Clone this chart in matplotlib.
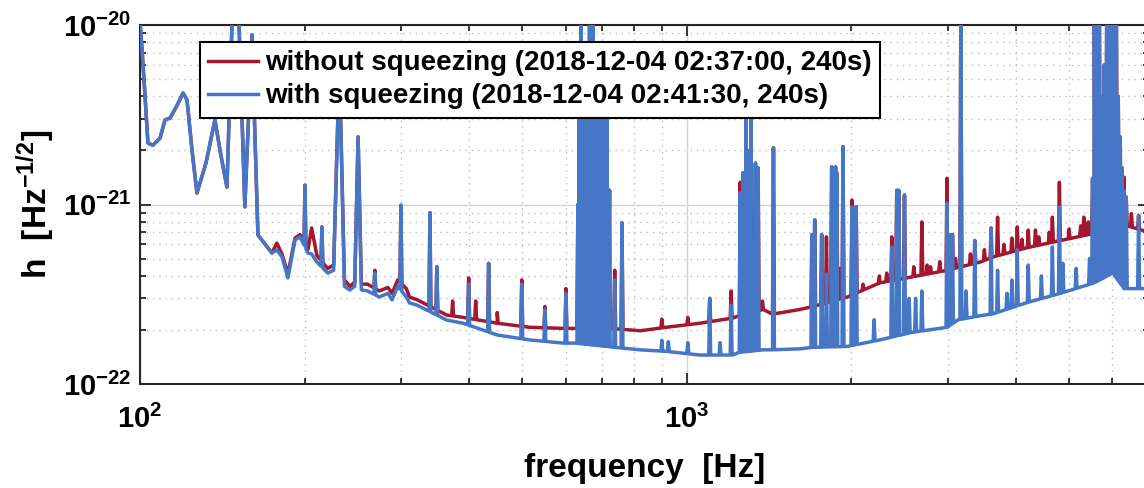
import numpy as np
import matplotlib
matplotlib.use("Agg")
import matplotlib.pyplot as plt
from matplotlib.ticker import FixedLocator, NullFormatter

nan = np.nan
UNIT = 1e-22  # amplitudes below are in units of 1e-22 Hz^-1/2

# ---- broadband floor (frequency [Hz], amplitude [1e-22]) ----
red_floor_f = [100, 100.8, 101.9, 103.4, 105.6, 108.8, 111.1, 113.5, 116.5, 119.9, 121.9, 124.5, 127.1,
               132, 137.1, 140.5, 144.2, 147.9, 151.1, 155.5, 160.2, 164.3, 174.3, 177.9, 181.8, 186.4,
               192.1, 196.1, 202.8, 206, 210.6, 220.4, 226, 231.5, 236.5, 242, 247, 250.5,
               254, 260.6, 274, 284, 289, 296, 307, 311, 321, 364, 390, 450, 516, 594, 624,
               724, 822, 917, 1056, 1213, 1245, 1380, 1433, 1608, 1700, 1965, 2253, 2581,
               2993, 3134, 3440, 3631, 4184, 4822, 5557, 6003, 6300, 7000]
red_floor_v = [105, 75, 45, 22, 21.4, 23.4, 29.6, 30.3, 35, 41.8, 38.2, 20, 11.6,
               17, 29.6, 19, 12.5, 150, 150, 9.7, 88, 6.76, 5.37, 6.1, 5.3, 4.1,
               6.5, 6.8, 5.6, 7.4, 5.2, 4.4, 4.6, 60, 3.8, 3.5, 3.7, 23.8,
               3.6, 3.6, 3.3, 3.45, 3.2, 3.8, 3.4, 3.05, 2.95, 2.42, 2.35, 2.18, 2.07, 2.04, 2.04,
               2.04, 1.98, 2.07, 2.18, 2.33, 2.4, 2.6, 2.45, 2.6, 2.7, 3.05, 3.66, 3.95,
               4.3, 4.46, 4.78, 5.1, 5.74, 6.3, 6.9, 7.4, 7.7, 7.0]

blue_floor_f = red_floor_f
blue_floor_v = [105, 75, 45, 22, 21.4, 23.4, 29.6, 30.3, 35, 41.8, 38.2, 20, 11.6,
                17, 29.6, 19, 12.5, 150, 150, 9.7, 88, 6.76, 5.37, 5.58, 5.1, 3.9,
                6.35, 6.6, 5.37, 5.3, 4.78, 4.15, 4.3, 60, 3.5, 3.34, 3.5, 23.8,
                3.34, 3.3, 3.05, 3.2, 2.94, 3.5, 3.05, 2.83, 2.75, 2.27, 2.18, 1.875, 1.76, 1.69, 1.69,
                1.61, 1.55, 1.52, 1.45, 1.45, 1.5, 1.55, 1.55, 1.57, 1.6, 1.62, 1.76, 1.94,
                2.07, 2.28, 2.4, 2.46, 2.84, 3.2, 3.66, 4.15, 3.4, 3.4]

# ---- narrow lines: frequency, peak with squeezing, peak without squeezing ----
line_f = [200.3, 215.1, 268.8, 300, 339, 349, 373, 399, 411, 434, 450, 499, 550, 601,
          632, 636, 640, 646, 651, 658, 664, 668, 673, 679, 685, 693, 700, 707, 714, 722,
          738, 761, 900, 925, 1004, 1101, 1150, 1205,
          1252, 1266, 1283, 1300, 1310, 1335, 1350, 1375, 1440,
          1693, 1713, 1764, 1800, 1840, 1855, 1870, 1880, 1900, 1930, 2004, 2040,
          2100, 2200, 2250, 2320, 2370, 2420, 2440, 2500, 2550, 2600, 2620, 2690,
          2750, 2790, 2900, 2990, 3030, 3060, 3100, 3170, 3240, 3300, 3362, 3500,
          3600, 3700, 3800, 3850, 3930, 4020, 4100, 4210, 4340, 4400, 4450, 4600,
          4660, 4800, 4870, 5000, 5150, 5250, 5320, 5420, 5450, 5520, 5560, 5620,
          5680, 5720, 5760, 5800, 5860, 5920, 5980, 6040, 6100, 6150, 6200, 6250,
          6300, 6360, 6500, 6700]
line_blue = [12.8, 7.5, 4.15, 9.9, 9.0, 4.5, nan, 3.6, nan, 4.7, nan, 3.6, 2.6, 3.2,
             10, 40, 150, 60, 35, 50, 150, 150, 150, 60, 35, 40, 35, 40, 30, 12,
             3.8, 7.9, 1.75, 1.72, 1.7, 3.0, 1.7, 2.75,
             11.6, 15, 33, 20, 40, 17, 16, nan, 20.7,
             6.8, 8.2, 6.8, 4.1, 16.2, 16, 16.2, 15, nan, 21, 9.7, 9.7,
             nan, 2.28, nan, nan, 5.8, 12, 12, 11.3, 3.0, nan, 3.0, 3.3,
             nan, nan, nan, 10.2, 6.8, 6.8, nan, 150, 3.3, nan, 6.3, nan,
             7.4, 4.3, nan, 3.2, 3.8, 5.6, nan, 4.6, nan, nan, 4.0, nan,
             5.8, 9.7, 4.7, nan, 4.4, nan, nan, nan, 5.0, 14, 150, 150,
             150, 30, 40, 60, 150, 150, 150, 150, 150, 40, 23.8, 16,
             12, 11, nan, 8.7]
line_red = [12.8, 7.5, 4.3, 9.9, 9.0, 4.5, 2.9, 3.9, 2.9, 4.7, 2.5, 3.8, 2.7, 3.4,
            10, 40, 150, 60, 35, 50, 150, 150, 150, 60, 35, 40, 35, 40, 30, 12,
            4.3, 7.9, 2.3, nan, 2.35, 3.0, nan, 3.3,
            13.3, 15, 33, 20, 42, 17, 16, 2.9, 20.7,
            6.8, 8.2, 6.8, 6.6, 16.2, 16, 16.2, 15, 4.4, 21, 10.6, 9.7,
            3.6, nan, 4.0, 4.15, 6.6, 12, 12, 11.3, nan, 4.5, nan, 8.0,
            4.6, 4.5, 4.8, 14, 6.8, 6.8, 5.0, 150, nan, 5.3, 6.3, 5.6,
            7.4, 8.5, 6.0, nan, 6.5, 7.5, 6.4, 7.2, 7.2, 6.6, nan, 7.0,
            8.5, 13.3, nan, 7.3, nan, 7.6, 8.5, 8.0, nan, 14, 150, 150,
            150, 30, 40, 60, 150, 150, 150, 150, 150, 40, 23.8, 16,
            14.2, 11, 8.9, 8.7]

labels = ["without squeezing (2018-12-04 02:37:00, 240s)",
          "with squeezing (2018-12-04 02:41:30, 240s)"]
colors = ["#A3182F", "#4677C6"]
x_major = [1e2, 1e3]
y_major = [1e-22, 1e-21, 1e-20]


def build_series(ff, fv, lf, lv, w=1.004):
    lff = np.log10(ff)
    lfv = np.log10(fv)
    base = lambda f: 10 ** np.interp(np.log10(f), lff, lfv)
    xs = list(ff)
    ys = list(fv)
    for f, v in zip(lf, lv):
        if np.isfinite(v):
            xs += [f / w, f, f * w]
            ys += [base(f / w), v, base(f * w)]
    order = np.argsort(xs, kind="stable")
    return np.asarray(xs)[order], np.asarray(ys)[order] * UNIT


plt.rcParams["font.family"] = ["Liberation Sans", "DejaVu Sans"]
plt.rcParams["font.weight"] = "bold"
plt.rcParams["mathtext.fontset"] = "custom"
plt.rcParams["mathtext.rm"] = "Liberation Sans:bold"
plt.rcParams["mathtext.it"] = "Liberation Sans:bold"
plt.rcParams["mathtext.bf"] = "Liberation Sans:bold"
plt.rcParams["axes.unicode_minus"] = False

fig = plt.figure(figsize=(11.44, 4.88), dpi=100)
ax = fig.add_axes([140 / 1144, (488 - 384) / 488, 1009 / 1144, 359 / 488])
ax.set_xscale("log")
ax.set_yscale("log")

rx, ry = build_series(red_floor_f, red_floor_v, line_f, line_red)
bx, by = build_series(blue_floor_f, blue_floor_v, line_f, line_blue)
ax.plot(rx, ry, color=colors[0], lw=2.5, label=labels[0], zorder=3)
ax.plot(bx, by, color=colors[1], lw=2.5, label=labels[1], zorder=4)

ax.set_xlim(100, 7000)
ax.set_ylim(1e-22, 1e-20)

ax.set_xticks(x_major)
ax.set_yticks(y_major)
x_minor = [m * d for d in (1e2, 1e3) for m in range(2, 10) if m * d <= 7000]
y_minor = [m * d for d in (1e-22, 1e-21) for m in range(2, 10)]
ax.xaxis.set_minor_locator(FixedLocator(x_minor))
ax.yaxis.set_minor_locator(FixedLocator(y_minor))
ax.xaxis.set_minor_formatter(NullFormatter())
ax.yaxis.set_minor_formatter(NullFormatter())
ax.set_xticklabels([r"$\mathdefault{10^{2}}$", r"$\mathdefault{10^{3}}$"])
ax.set_yticklabels([r"$\mathdefault{10^{-22}}$", r"$\mathdefault{10^{-21}}$",
                    r"$\mathdefault{10^{-20}}$"])

ax.grid(which="major", color="#d4d4d4", lw=1.0, ls="-", zorder=0)
ax.grid(which="minor", color="#bdbdbd", lw=1.0, ls=(0, (1, 3.5)), zorder=0)
ax.set_axisbelow(True)

ax.tick_params(which="both", direction="in", top=True, right=True, color="#262626",
               width=1.3, labelsize=21, labelcolor="black")
ax.tick_params(which="major", length=8)
ax.tick_params(which="minor", length=4.5)
ax.tick_params(axis="x", which="major", pad=15)
ax.tick_params(axis="y", which="major", pad=6)
for s in ax.spines.values():
    s.set_color("#262626")
    s.set_linewidth(1.5)

ax.set_xlabel("frequency  [Hz]", fontsize=24, fontweight="bold", labelpad=14)
ax.set_ylabel("h  [Hz$^{-1/2}$]", fontsize=24, fontweight="bold", labelpad=4)

leg = ax.legend(loc="upper left", bbox_to_anchor=(200 / 1144, 1 - 42 / 488),
                bbox_transform=fig.transFigure, borderaxespad=0, fontsize=20,
                fancybox=False, framealpha=1, edgecolor="black", handlelength=1.8,
                handletextpad=0.25, borderpad=0.3, labelspacing=0.25)
leg.get_frame().set_linewidth(1.5)
leg.set_zorder(10)
for line in leg.get_lines():
    line.set_linewidth(2.5)

fig.savefig("out.png", dpi=100)
